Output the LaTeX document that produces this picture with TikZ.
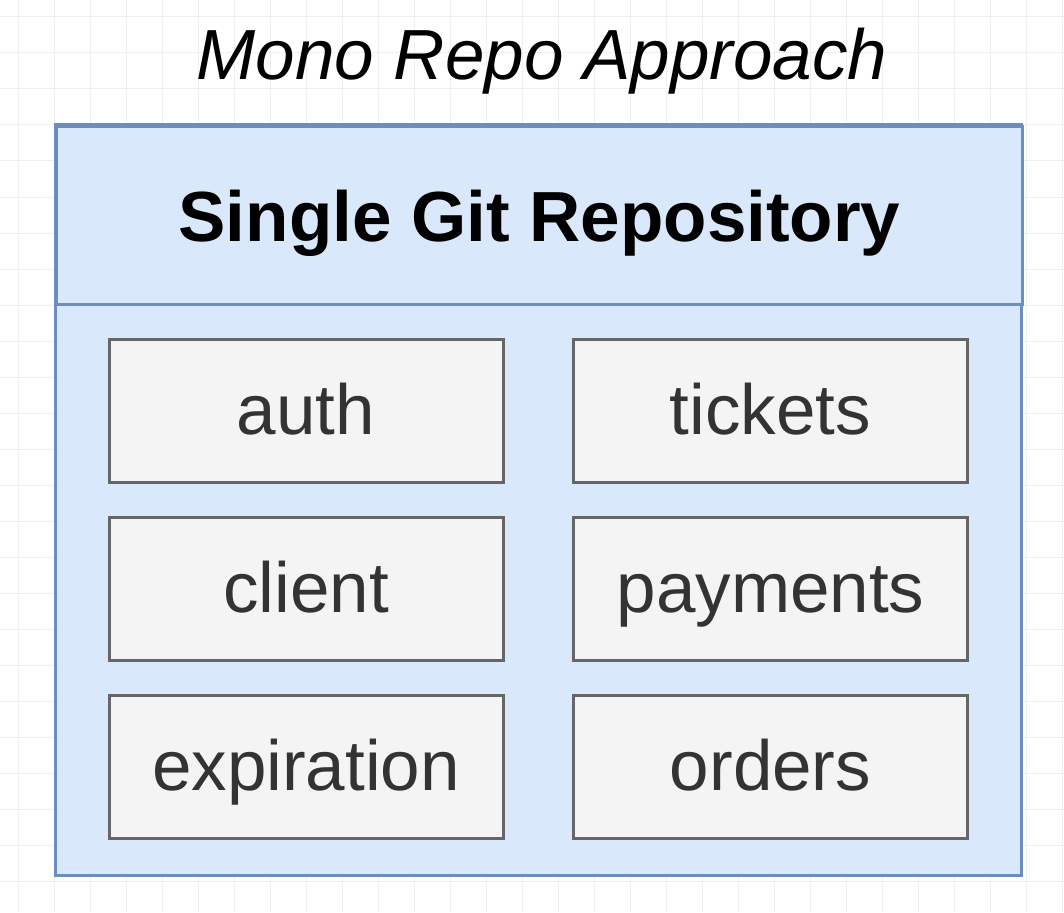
\documentclass[tikz,border=0pt]{standalone}
\usepackage{fontspec}
\setmainfont{Liberation Sans}
\usetikzlibrary{positioning}
\definecolor{repofill}{HTML}{DAE8FC}
\definecolor{repoline}{HTML}{6C8EBF}
\definecolor{svcfill}{HTML}{F4F4F4}
\definecolor{svcline}{HTML}{666666}
\definecolor{svctext}{HTML}{333333}
\definecolor{gridgray}{HTML}{EFEFEF}

\begin{document}
\begin{tikzpicture}[x=1pt,y=-1pt,
  service/.style={draw=svcline, fill=svcfill, line width=3pt, text=svctext,
    minimum width=394pt, minimum height=143pt, inner sep=0pt,
    text height=50pt, text depth=2pt,
    font=\fontsize{71}{80}\selectfont},
  header/.style={draw=repoline, fill=repofill, line width=3pt,
    minimum width=966pt, minimum height=178pt, inner sep=0pt,
    text height=54pt, text depth=2pt,
    font=\fontsize{71}{80}\selectfont\bfseries}]
\useasboundingbox (0,0) rectangle (1064,912);
\fill[white] (0,0) rectangle (1064,912);
% background grid
\foreach \i in {18,54,...,1062} \draw[gridgray, line width=1pt] (\i,0)--(\i,912);
\foreach \j in {17,53,...,911} \draw[gridgray, line width=1pt] (0,\j)--(1064,\j);
\node[anchor=base, font=\fontsize{71}{80}\selectfont\itshape] (title) at (542,80) {Mono Repo Approach};
% repository box
\draw[repoline, fill=repofill, line width=3pt] (55,125) rectangle (1021,875);
\node[header, anchor=north west] (repo) at (55,125) {Single Git Repository};
% services
\node[service] (auth) at (306,410.5) {auth};
\node[service] (tickets) at (770.5,410.5) {tickets};
\node[service, below=32pt of auth] (client) {client};
\node[service, below=32pt of tickets] (payments) {payments};
\node[service, below=32pt of client] (expiration) {expiration};
\node[service, below=32pt of payments] (orders) {orders};

\end{tikzpicture}
\end{document}
